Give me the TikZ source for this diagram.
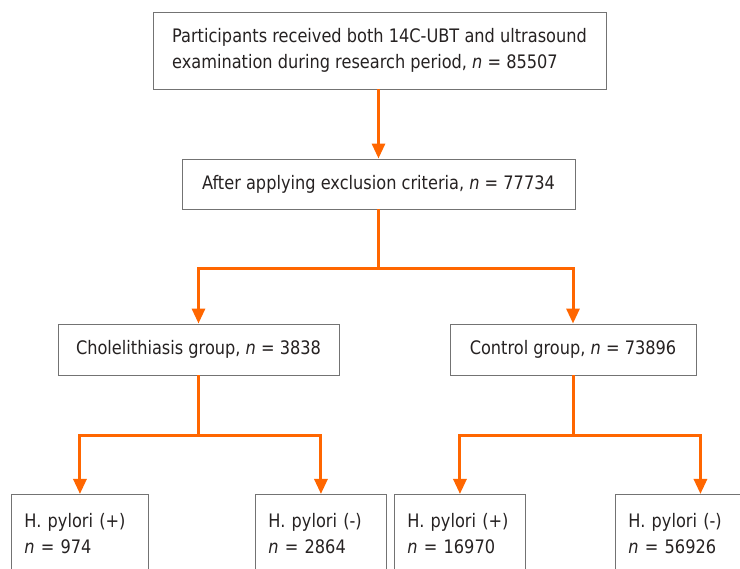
\documentclass[tikz,border=0pt]{standalone}
\usepackage{fontspec}
\setmainfont{DejaVu Sans}[FakeStretch=0.87]
\usepackage{xcolor}
\usepackage{tikz}
\definecolor{flowgray}{RGB}{115, 115, 115}
\definecolor{flowtext}{RGB}{38, 34, 34}
\definecolor{floworange}{RGB}{255, 102, 0}
\usetikzlibrary{arrows.meta,calc}

\begin{document}
\begin{tikzpicture}[
    x=1pt, y=-1pt,
    every node/.style={text=flowtext, font=\fontsize{18.6}{26}\selectfont},
    stage/.style={
        rectangle,
        draw=flowgray,
        line width=0.9pt,
        fill=white,
        align=center,
        inner sep=0pt
    },
    leaf/.style={
        rectangle,
        draw=flowgray,
        line width=0.9pt,
        fill=white,
        anchor=north west,
        align=left,
        inner xsep=13pt,
        inner ysep=10pt,
        text height=23pt,
        text depth=60pt
    },
    link/.style={draw=floworange, line width=3pt},
    flow/.style={link, -{Triangle[length=15pt, width=13pt]}}
]
    \clip (0,0) rectangle (740,569);

    % Stages
    \node[stage, minimum width=453pt, minimum height=77pt, align=left] (all) at (379.5,50.5)
        {Participants received both 14C-UBT and ultrasound\\examination during research period, \textit{n} = 85507};
    \node[stage, minimum width=393pt, minimum height=50pt] (excl) at (378.5,184)
        {After applying exclusion criteria, \textit{n} = 77734};
    \node[stage, minimum width=281pt, minimum height=51pt] (chole) at (198.5,349.5)
        {Cholelithiasis group, \textit{n} = 3838};
    \node[stage, minimum width=246pt, minimum height=51pt] (ctrl) at (573,349.5)
        {Control group, \textit{n} = 73896};

    % Subgroups
    \node[leaf, text width=111pt] (cpos) at (11,494) {H. pylori (+)\\\textit{n} = 974};
    \node[leaf, text width=105pt] (cneg) at (255,494) {H. pylori (-)\\\textit{n} = 2864};
    \node[leaf, text width=105pt] (kpos) at (394,494) {H. pylori (+)\\\textit{n} = 16970};
    \node[leaf, text width=144pt] (kneg) at (615,494) {H. pylori (-)\\\textit{n} = 56926};

    % Branch points
    \coordinate (split) at (378.5,269);
    \coordinate (csplit) at (198.5,436);
    \coordinate (ksplit) at (573,436);

    % Arrows
    \draw[flow] (all.south -| excl.north) -- (excl.north);
    \draw[link] (excl.south) -- (split);
    \draw[flow] (split) -| (chole.north);
    \draw[flow] (split) -| (ctrl.north);
    \draw[link] (chole.south) -- (csplit);
    \draw[flow] (csplit) -| (cpos.north);
    \draw[flow] (csplit) -| (cneg.north);
    \draw[link] (ctrl.south) -- (ksplit);
    \draw[flow] (ksplit) -| (kpos.north);
    \draw[flow] (ksplit) -| (kneg.north);
\end{tikzpicture}
\end{document}
